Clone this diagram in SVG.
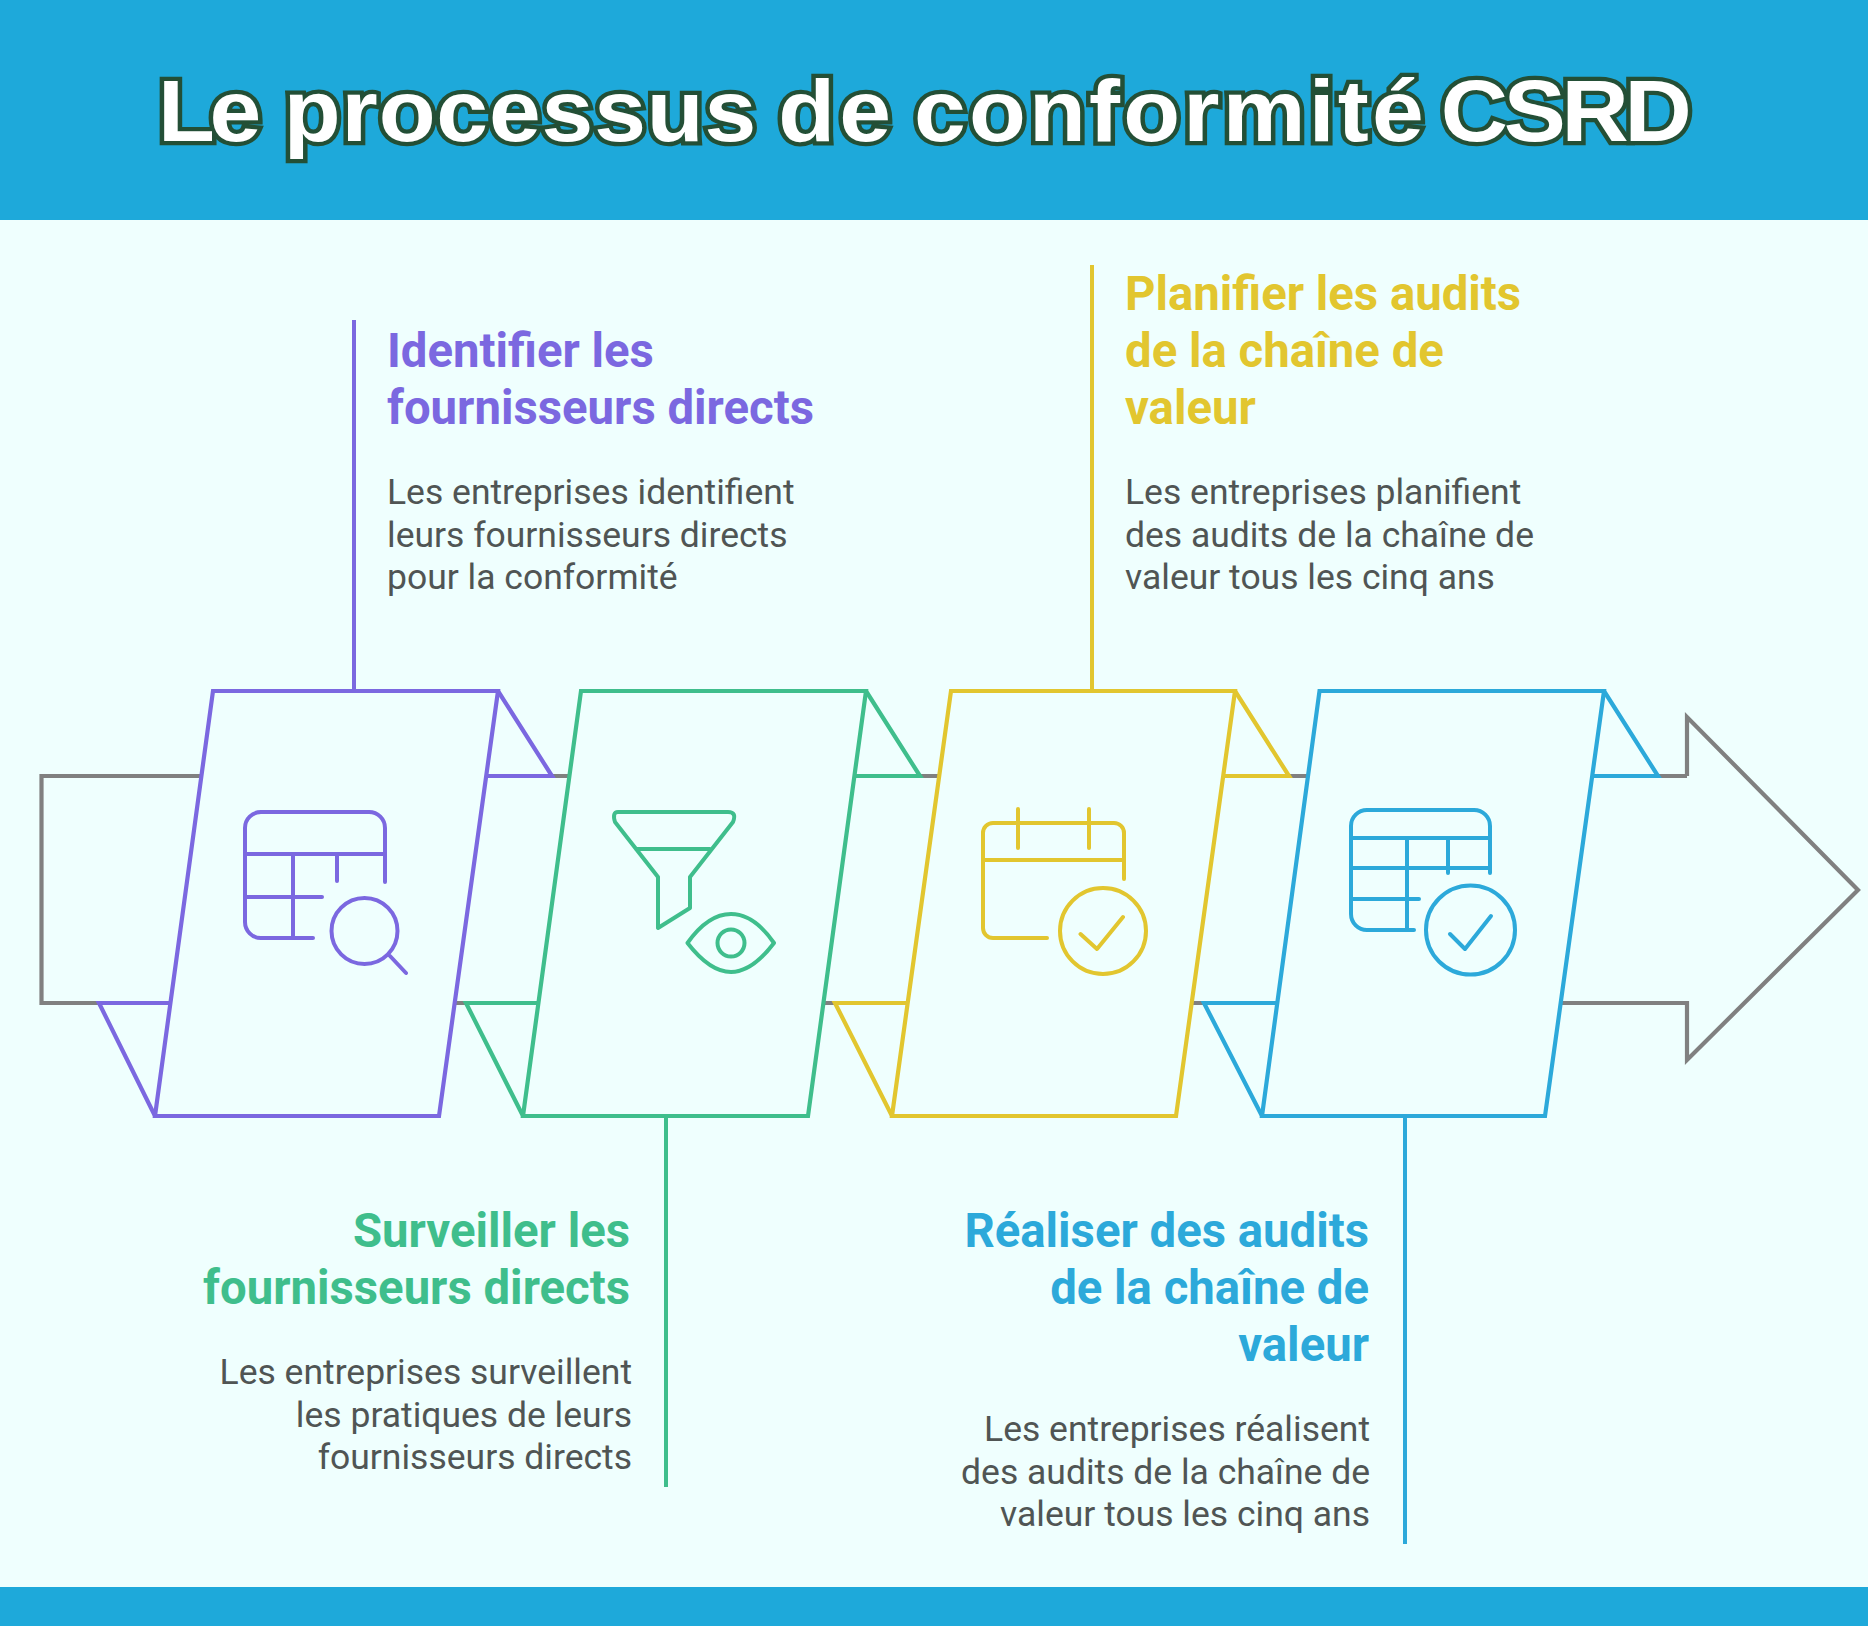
<svg xmlns="http://www.w3.org/2000/svg" width="1868" height="1626" viewBox="0 0 1868 1626">
<style>
.s{fill:none;stroke-width:4;stroke-linejoin:miter;stroke-linecap:butt}
.c{fill:#EFFFFE;stroke-width:4.2;stroke-linejoin:miter}
.i{fill:none;stroke-width:4;stroke-linejoin:round;stroke-linecap:round}
.p{stroke:#7B68E0}.g{stroke:#3FBE8C}.y{stroke:#E2C62F}.b{stroke:#2CA9DA}
.h{font-family:"Roboto",sans-serif;font-weight:700;font-size:47.3px}
.t{font-family:"Roboto",sans-serif;font-weight:400;font-size:35.5px;fill:#505554}
.hp{fill:#7B68E0}.hg{fill:#3FBE8C}.hy{fill:#E2C62F}.hb{fill:#2CA9DA}
.e{text-anchor:end}
</style>
<rect width="1868" height="1626" fill="#EFFFFE"/>
<rect id="header" width="1868" height="220" fill="#1EA9DA"/>
<rect id="footer" y="1587" width="1868" height="39" fill="#1EA9DA"/>
<text id="title" transform="translate(0 141) scale(1.07 1)" font-family="Liberation Sans, sans-serif" font-weight="700" font-size="87" fill="#fff" stroke="#234F36" stroke-width="8.5" paint-order="stroke" stroke-linejoin="miter" stroke-miterlimit="3"><tspan x="147.700" letter-spacing="-5">Le</tspan> <tspan x="265.300" letter-spacing="0.8">processus</tspan> <tspan x="727.300" letter-spacing="4">de</tspan> <tspan x="854.200" letter-spacing="3">conformité</tspan> <tspan x="1346.500" letter-spacing="-4">CSRD</tspan></text>
<g id="connectors">
<path id="arrow" d="M1687 776V717L1858 890L1687 1060V1003H41.5V776H1687" fill="#EFFFFE" stroke="#808080" stroke-width="4.2"/>
<path class="s p" d="M354 320V691"/>
<path class="s g" d="M666 1116V1487"/>
<path class="s y" d="M1092 265V691"/>
<path class="s b" d="M1405 1116V1544"/>
</g>
<g id="node1">
<path class="c p" d="M498 691L552 776H485.5M155 1116L99 1003H171"/>
<path class="c p" d="M213 691H498L439 1116H155Z"/>
<path class="i p" d="M385 882V828a16 16 0 0 0-16-16H261a16 16 0 0 0-16 16V922a16 16 0 0 0 16 16H313M245 854H385M293 854V938M337 854V881M245 897H322M390 956L406 973"/>
<circle class="i p" cx="364.500" cy="931" r="33"/>
<text class="h hp" x="387" y="367">Identifier les</text>
<text class="h hp" x="387" y="424">fournisseurs directs</text>
<text class="t" x="387" y="504">Les entreprises identifient</text>
<text class="t" x="387" y="547">leurs fournisseurs directs</text>
<text class="t" x="387" y="589">pour la conformité</text>
</g>
<g id="node2">
<path class="c g" d="M866 691L920 776H855M523 1116L466 1003H538"/>
<path class="c g" d="M581 691H866L808 1116H523Z"/>
<path class="i g" d="M618 812H728Q737 812 733 822L690 877V908L658 928V877L615 822Q612 812 618 812ZM636 849H710"/>
<path class="i g" d="M687.500 943Q708 914 731 914T774 943Q752 972 731 972T687.500 943Z"/>
<circle class="i g" cx="731" cy="943" r="13.500"/>
<text class="h hg e" x="630" y="1247">Surveiller les</text>
<text class="h hg e" x="630" y="1304">fournisseurs directs</text>
<text class="t e" x="632" y="1384">Les entreprises surveillent</text>
<text class="t e" x="632" y="1427">les pratiques de leurs</text>
<text class="t e" x="632" y="1469">fournisseurs directs</text>
</g>
<g id="node3">
<path class="c y" d="M1235 691L1289 776H1224M892 1116L835 1003H907"/>
<path class="c y" d="M951 691H1235L1176 1116H892Z"/>
<path class="i y" d="M1124 879V833a10 10 0 0 0-10-10H993a10 10 0 0 0-10 10V928a10 10 0 0 0 10 10H1047M983 860H1124M1018 809V848M1089 809V848M1080.500 934L1097 949L1123 917"/>
<circle class="i y" cx="1103" cy="931" r="43"/>
<text class="h hy" x="1125" y="310">Planifier les audits</text>
<text class="h hy" x="1125" y="367">de la chaîne de</text>
<text class="h hy" x="1125" y="424">valeur</text>
<text class="t" x="1125" y="504">Les entreprises planifient</text>
<text class="t" x="1125" y="547">des audits de la chaîne de</text>
<text class="t" x="1125" y="589">valeur tous les cinq ans</text>
</g>
<g id="node4">
<path class="c b" d="M1604 691L1658 776H1592.500M1262 1116L1204 1003H1276"/>
<path class="c b" d="M1319.500 691H1604L1545 1116H1262Z"/>
<path class="i b" d="M1490 873V826a16 16 0 0 0-16-16H1367a16 16 0 0 0-16 16V914a16 16 0 0 0 16 16H1414M1351 838H1490M1351 868H1490M1351 899H1419M1407 838V930M1448 838V873M1450 934L1465 949L1491 916"/>
<circle class="i b" cx="1470.500" cy="930" r="44.500"/>
<text class="h hb e" x="1369" y="1247">Réaliser des audits</text>
<text class="h hb e" x="1369" y="1304">de la chaîne de</text>
<text class="h hb e" x="1369" y="1361">valeur</text>
<text class="t e" x="1370" y="1441">Les entreprises réalisent</text>
<text class="t e" x="1370" y="1484">des audits de la chaîne de</text>
<text class="t e" x="1370" y="1526">valeur tous les cinq ans</text>
</g>
</svg>
